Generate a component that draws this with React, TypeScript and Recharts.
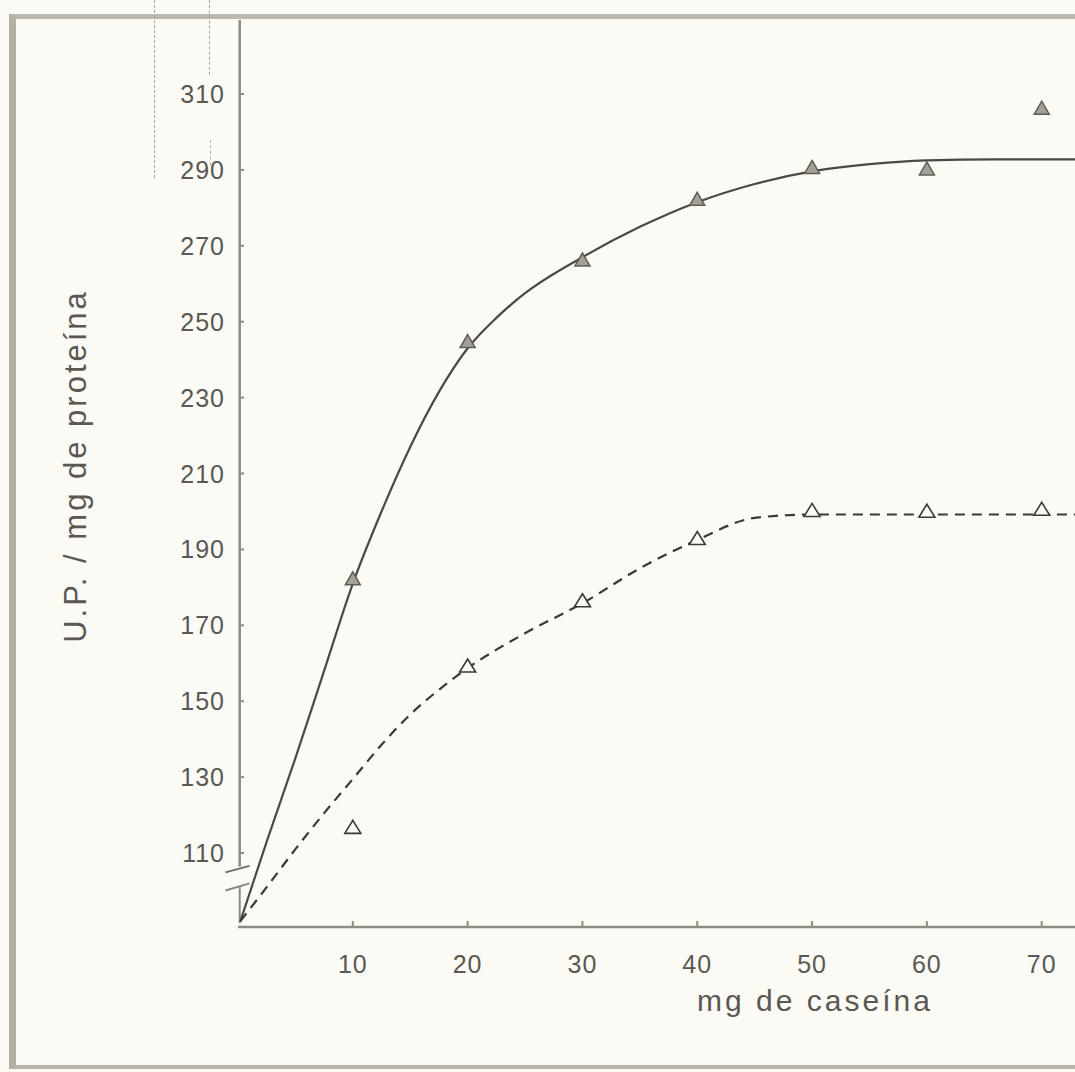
import React from 'react';
import { ComposedChart, Line, Scatter, XAxis, YAxis, ReferenceLine } from 'recharts';

// measured points (triangles), mg de caseína vs U.P./mg de proteína
const caseinMg = [10, 20, 30, 40, 50, 60, 70];
const upperPoints = [182, 244.5, 266, 282, 290.4, 290, 306];
const lowerPoints = [116.5, 159, 176.2, 192.6, 200, 199.8, 200.3];

// hand-drawn fitted curves
const upperCurveX = [0.2, 2.5, 5, 7.5, 10, 12.5, 15, 17.5, 20, 22.5, 25, 30, 35, 40, 45, 50, 55, 60, 66, 72.9];
const upperCurveY = [92, 113, 135, 158, 181, 200, 217, 231.5, 243, 251, 257.5, 267, 275, 281.5, 286.3, 289.6, 291.5, 292.5, 292.8, 292.8];
const lowerCurveX = [0.2, 2.5, 5, 7.5, 10, 12.5, 15, 17.5, 20, 25, 30, 35, 40, 45, 50, 60, 72.9];
const lowerCurveY = [92, 101, 111, 120.5, 129.5, 138.5, 146.5, 153, 158.7, 167.9, 175.8, 185, 192.5, 198.3, 199.2, 199.2, 199.2];

const xTicks = [10, 20, 30, 40, 50, 60, 70];
const yTicks = [110, 130, 150, 170, 190, 210, 230, 250, 270, 290, 310];

const FONT = '"Liberation Sans", Arial, Helvetica, sans-serif';
const INK = '#5a5853';
const AXIS = '#8f8c82';

const toPoints = (xs: number[], ys: number[]) => xs.map((x, i) => ({ x, y: ys[i] }));

const upperScatter = toPoints(caseinMg, upperPoints);
const lowerScatter = toPoints(caseinMg, lowerPoints);
const upperCurve = toPoints(upperCurveX, upperCurveY);
const lowerCurve = toPoints(lowerCurveX, lowerCurveY);

function FilledTriangle(props: any) {
  const { cx, cy } = props;
  return (
    <path
      d={`M${cx},${cy - 8} L${cx + 7.5},${cy + 5} L${cx - 7.5},${cy + 5} Z`}
      fill="#a3a197"
      stroke="#5f5d56"
      strokeWidth={1.5}
    />
  );
}

function OpenTriangle(props: any) {
  const { cx, cy } = props;
  return (
    <path
      d={`M${cx},${cy - 8} L${cx + 8},${cy + 5} L${cx - 8},${cy + 5} Z`}
      fill="#fbfaf5"
      stroke="#3b3a35"
      strokeWidth={1.6}
    />
  );
}

function YTick(props: any) {
  const { x, y, payload } = props;
  return (
    <g>
      <text x={x - 13} y={y} dy={9} textAnchor="end" fontSize={25} fill={INK} fontFamily={FONT} letterSpacing={1}>
        {payload.value}
      </text>
      <line x1={x + 2} y1={y} x2={x + 6} y2={y} stroke={AXIS} strokeWidth={2} />
    </g>
  );
}

function XTick(props: any) {
  const { x, y, payload } = props;
  return (
    <g>
      <text x={x} y={y} dy={46} textAnchor="middle" fontSize={25} fill={INK} fontFamily={FONT} letterSpacing={1}>
        {payload.value}
      </text>
      <line x1={x} y1={y - 1} x2={x} y2={y - 6} stroke={AXIS} strokeWidth={2} />
    </g>
  );
}

export default function App() {
  return (
    <div style={{ position: 'absolute', left: 0, top: 0, width: 1075, height: 1072, background: '#fbfaf5', overflow: 'hidden' }}>
      {/* scanned frame */}
      <div
        style={{
          position: 'absolute',
          left: 9,
          top: 14,
          width: 1080,
          height: 1046,
          borderLeft: '7px solid #b4b0a5',
          borderTop: '5px solid #bcb8ad',
          borderBottom: '4px solid #b8b4a9',
        }}
      />
      {/* stray marks at the top of the scan */}
      <div style={{ position: 'absolute', left: 154, top: 0, width: 0, height: 178, borderLeft: '1.5px dashed #a8a59c' }} />
      <div style={{ position: 'absolute', left: 209, top: 0, width: 0, height: 75, borderLeft: '1.5px dashed #a8a59c' }} />
      <div style={{ position: 'absolute', left: 210, top: 140, width: 0, height: 25, borderLeft: '1.5px dashed #b3b0a7' }} />

      <div style={{ position: 'absolute', left: 0, top: 0 }}>
        <ComposedChart width={1075} height={1072} margin={{ top: 20, right: 0, bottom: 85, left: 0 }}>
          <XAxis
            type="number"
            dataKey="x"
            domain={[0, 72.9]}
            ticks={xTicks}
            allowDataOverflow
            height={60}
            tickLine={false}
            tickSize={0}
            tickMargin={0}
            axisLine={{ stroke: AXIS, strokeWidth: 2.5 }}
            tick={<XTick />}
            label={{
              content: () => (
                <text x={815} y={1011} textAnchor="middle" fontSize={30} fill={INK} fontFamily={FONT} letterSpacing={3}>
                  mg de caseína
                </text>
              ),
            }}
          />
          <YAxis
            type="number"
            dataKey="y"
            domain={[90.5, 329.5]}
            ticks={yTicks}
            allowDataOverflow
            width={238}
            axisLine={false}
            tickLine={false}
            tickSize={0}
            tickMargin={0}
            tick={<YTick />}
            label={{
              content: () => (
                <text
                  x={86}
                  y={466}
                  transform="rotate(-90 86 466)"
                  textAnchor="middle"
                  fontSize={31}
                  fill={INK}
                  fontFamily={FONT}
                  letterSpacing={3}
                >
                  U.P. / mg de proteína
                </text>
              ),
            }}
          />
          {/* vertical axis with the break near the origin */}
          <ReferenceLine segment={[{ x: 0.15, y: 106.4 }, { x: 0.15, y: 329.5 }]} stroke={AXIS} strokeWidth={2.5} ifOverflow="visible" />
          <ReferenceLine segment={[{ x: -1.1, y: 104.9 }, { x: 1.0, y: 106.6 }]} stroke="#6f6d66" strokeWidth={2} ifOverflow="visible" />
          <ReferenceLine segment={[{ x: -1.1, y: 100.1 }, { x: 1.0, y: 102.0 }]} stroke="#8a877e" strokeWidth={2} ifOverflow="visible" />
          <ReferenceLine segment={[{ x: 0.15, y: 101.2 }, { x: 0.15, y: 91.5 }]} stroke={AXIS} strokeWidth={2} ifOverflow="visible" />

          <Line
            data={upperCurve}
            dataKey="y"
            type="monotone"
            stroke="#4a4943"
            strokeWidth={2.2}
            dot={false}
            isAnimationActive={false}
          />
          <Line
            data={lowerCurve}
            dataKey="y"
            type="monotone"
            stroke="#3a3935"
            strokeWidth={2.2}
            strokeDasharray="10 7"
            dot={false}
            isAnimationActive={false}
          />
          <Scatter data={upperScatter} dataKey="y" shape={<FilledTriangle />} isAnimationActive={false} />
          <Scatter data={lowerScatter} dataKey="y" shape={<OpenTriangle />} isAnimationActive={false} />
        </ComposedChart>
      </div>
    </div>
  );
}
